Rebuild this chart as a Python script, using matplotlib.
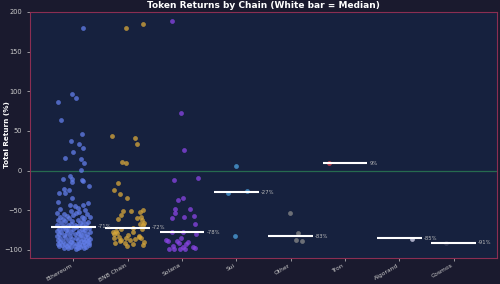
import matplotlib
matplotlib.use("Agg")
import matplotlib.pyplot as plt

# chains shown on the x axis
chains = ["Ethereum", "BNB Chain", "Solana", "Sui", "Other", "Tron", "Algorand", "Cosmos"]
colors = ["#627EEA", "#D9A83A", "#8A45E6", "#4DA2E0", "#8A8A8A", "#E8454F", "#D8D8F0", "#3A3F5C"]
medians = [-71, -72, -78, -27, -83, 9, -85, -91]

# token returns (%) per chain, with the jitter used there
eth_vals = [180, 96, 92, 87, 64, 46, 37, 33, 28, 24, 16, 15, 10, 1, -7, -10, -10, -12, -13, -14,
            -20, -23, -25, -28, -28, -34, -39, -41, -43, -43, -44, -47,
            -48, -50, -51, -52, -53, -54, -55, -55, -56, -57, -58, -58, -59, -60, -60, -61, -62,
            -62, -63, -64, -64, -65, -66, -66, -67, -67, -68, -68, -69, -69, -70, -70, -71,
            -71, -72, -72, -73, -73, -74, -74, -75, -75, -76, -76, -77, -77, -78, -78, -79, -79,
            -80, -80, -80, -81, -81, -82, -82, -83, -83, -84, -84, -85, -85, -86, -86, -86, -87,
            -87, -88, -88, -89, -89, -89, -90, -90, -90, -91, -91, -92, -92, -92, -93, -93, -93,
            -94, -94, -94, -95, -95, -95, -96, -96, -96, -97, -97, -98, -98, -99]
eth_dx = [0.18, -0.02, 0.04, -0.28, -0.22, 0.15, -0.05, 0.11, 0.18, 0.0, -0.15, 0.13, 0.2, 0.13,
          -0.07, -0.2, -0.02, 0.15, 0.17, -0.02, 0.28, -0.17, -0.09, -0.26, -0.16, -0.02, -0.28,
          0.27, 0.17, -0.07, 0.02, 0.09,
          -0.25, 0.22, -0.05, 0.1, -0.3, 0.05, -0.18, 0.25, 0.0, -0.12, 0.15, -0.24, 0.3, -0.08,
          0.2, -0.2, 0.08, -0.28, 0.18, -0.02, -0.15, 0.27, 0.12, -0.22, -0.05, 0.24, 0.02, -0.3,
          0.16, -0.1, 0.07, -0.18, 0.22,
          0.05, -0.2, 0.28, -0.1, 0.15, -0.27, 0.0, 0.22, -0.14, 0.1,
          -0.3, 0.18, -0.05, 0.3, -0.22, 0.08, -0.12, 0.25, -0.26, 0.02,
          0.14, -0.18, 0.21, -0.07, -0.3, 0.12, 0.27, -0.15, 0.04, -0.24,
          0.17, -0.02, 0.3, -0.1, 0.23, -0.28, 0.08, -0.19, 0.13, 0.26,
          -0.05, -0.25, 0.19, 0.0, 0.29, -0.16, 0.1, -0.29, 0.22, -0.08,
          0.06, -0.21, 0.16, 0.28, -0.12, 0.02, -0.26, 0.12, 0.24, -0.04,
          -0.18, 0.09, 0.2, -0.1, 0.04]

bnb_vals = [185, 180, 44, 41, 33, 11, 9, -16, -24, -29, -35, -50, -51, -51, -52, -56, -58, -60,
            -61, -62, -66, -67, -69, -72, -73, -73, -76, -78, -78, -79, -80, -81, -83, -84, -84,
            -85, -85, -85, -86, -87, -88, -89, -90, -91, -91, -92, -94, -95]
bnb_dx = [0.29, -0.04, -0.29, 0.13, 0.17, -0.11, -0.04, -0.18, -0.26, -0.15, -0.02, 0.29, 0.06,
          -0.09, 0.22, -0.13, 0.24, 0.17, -0.18, 0.27, 0.3, 0.22, 0.28, 0.09, -0.13, 0.26, -0.22,
          -0.27, 0.09, -0.2, -0.25, 0.0, 0.2, -0.16, 0.21, -0.26, -0.03, 0.24, 0.13, 0.05, -0.12,
          -0.15, 0.3, -0.24, -0.05, 0.1, 0.28, -0.02]

sol_vals = [189, 72, 26, -9, -12, -35, -37, -49, -49, -53, -57, -58, -60, -67, -78, -78, -80,
            -85, -88, -89, -89, -90, -91, -93, -95, -96, -96, -98, -99, -99, -99, -99]
sol_dx = [-0.18, -0.02, 0.04, 0.29, -0.15, 0.02, -0.07, -0.13, 0.15, -0.13, 0.22, 0.04, -0.18,
          0.24, -0.18, 0.02, 0.26, -0.02, -0.3, -0.26, -0.09, 0.11, -0.05, 0.07, -0.16, 0.02,
          0.2, 0.24, -0.24, -0.15, -0.04, 0.06]

sui_vals = [6, -26, -28, -83]
sui_dx = [0.0, 0.19, -0.15, -0.02]
other_vals = [-53, -79, -87, -89]
other_dx = [-0.02, 0.13, 0.09, 0.2]
tron_vals = [9]
tron_dx = [-0.29]
algo_vals = [-86]
algo_dx = [0.24]
cosmos_vals = [-91]
cosmos_dx = [-0.13]

all_vals = [eth_vals, bnb_vals, sol_vals, sui_vals, other_vals, tron_vals, algo_vals, cosmos_vals]
all_dx = [eth_dx, bnb_dx, sol_dx, sui_dx, other_dx, tron_dx, algo_dx, cosmos_dx]

fig = plt.figure(figsize=(5, 2.84), dpi=100, facecolor="#1a1a2e")
ax = fig.add_axes([0.06, 0.092, 0.934, 0.866], facecolor="#16213e")

for i, (vals, dx) in enumerate(zip(all_vals, all_dx)):
    xs = [i + d for d in dx]
    ax.scatter(xs, vals, s=12, color=colors[i], alpha=0.75, linewidths=0, zorder=2)
    # median bar + label
    ax.hlines(medians[i], i - 0.41, i + 0.41, color="white", lw=1.5, zorder=3)
    ax.text(i + 0.45, medians[i], f"{medians[i]}%", color="#bbbbbb", fontsize=3.8,
            va="center", ha="left", zorder=4)

ax.axhline(0, color="#2e8b57", alpha=0.7, lw=0.9, zorder=1)

ax.set_xlim(-0.8, 7.8)
ax.set_ylim(-110, 200)
ax.set_yticks([-100, -50, 0, 50, 100, 150, 200])
ax.set_xticks(range(len(chains)))
ax.set_xticklabels(chains, rotation=30, ha="right", fontsize=4.3)

ax.tick_params(colors="#cccccc", labelsize=4.8, length=2, width=0.5)
ax.tick_params(axis="x", labelsize=4.3, pad=1.5)
for sp in ax.spines.values():
    sp.set_color("#8b2e52")
    sp.set_linewidth(0.8)

ax.set_title("Token Returns by Chain (White bar = Median)", color="white",
             fontsize=6.5, fontweight="bold", pad=3)
ax.set_ylabel("Total Return (%)", color="white", fontsize=5.2, fontweight="bold")
ax.yaxis.set_label_coords(-0.042, 0.5)

fig.savefig("out.png", dpi=100, facecolor=fig.get_facecolor())
